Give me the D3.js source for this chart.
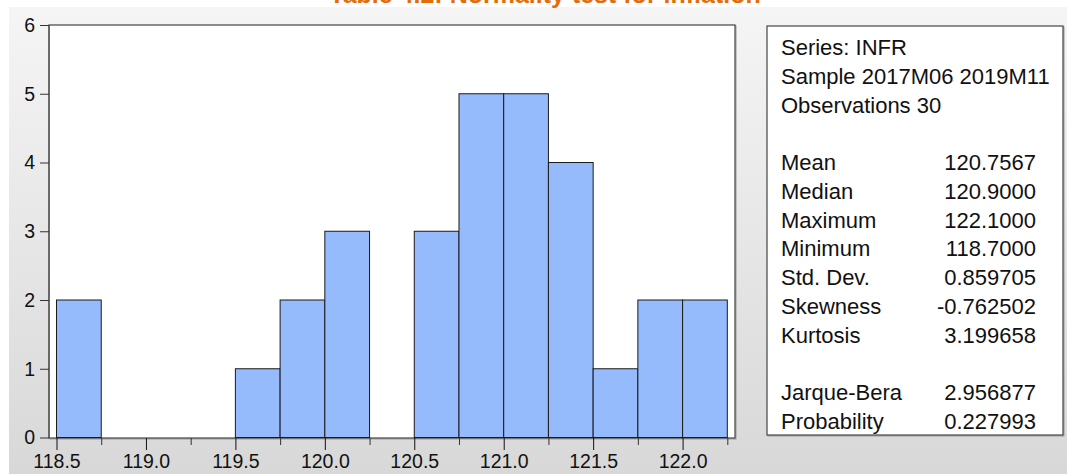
<!DOCTYPE html>
<html>
<head>
<meta charset="utf-8">
<script src="https://cdn.jsdelivr.net/npm/d3@7"></script>
<style>
  html, body { margin: 0; padding: 0; background: #fff; }
  svg { display: block; }
  text { font-family: "Liberation Sans", Arial, sans-serif; }
</style>
</head>
<body>
<script>
// ---- data ----
const title = "Table 4.2: Normality test for inflation";
const binStarts = [118.5, 118.75, 119.0, 119.25, 119.5, 119.75, 120.0, 120.25, 120.5, 120.75, 121.0, 121.25, 121.5, 121.75, 122.0];
const counts    = [2, 0, 0, 0, 1, 2, 3, 0, 3, 5, 5, 4, 1, 2, 2];
const binWidth = 0.25;
const xTickValues = [118.5, 119.0, 119.5, 120.0, 120.5, 121.0, 121.5, 122.0];
const xMinorTicks = [118.75, 119.25, 119.75, 120.25, 120.75, 121.25, 121.75, 122.25];
const yTickValues = [0, 1, 2, 3, 4, 5, 6];
const statHeader = ["Series: INFR", "Sample 2017M06 2019M11", "Observations 30"];
const statLabels = ["Mean", "Median", "Maximum", "Minimum", "Std. Dev.", "Skewness", "Kurtosis"];
const statValues = ["120.7567", "120.9000", "122.1000", "118.7000", "0.859705", "-0.762502", "3.199658"];
const testLabels = ["Jarque-Bera", "Probability"];
const testValues = ["2.956877", "0.227993"];

// ---- layout ----
const W = 1067, H = 474;
const svg = d3.select("body").append("svg").attr("width", W).attr("height", H);

const defs = svg.append("defs");
const grad = defs.append("linearGradient").attr("id", "bg").attr("x1", 0).attr("y1", 0).attr("x2", 0).attr("y2", 1);
grad.append("stop").attr("offset", "0%").attr("stop-color", "#f5f5f5");
grad.append("stop").attr("offset", "100%").attr("stop-color", "#d8d8d8");

svg.append("rect").attr("x", 9).attr("y", 7).attr("width", W - 9).attr("height", H - 7).attr("fill", "url(#bg)");

// title (mostly clipped above the top edge, as in the source image)
svg.append("text").attr("x", 545).attr("y", 3).attr("text-anchor", "middle")
  .attr("font-size", 25).attr("font-weight", "bold").attr("fill", "#E46C0A").text(title);

const plot = { left: 49, right: 735, top: 25, bottom: 438 };
const x = d3.scaleLinear().domain([118.458, 122.293]).range([plot.left, plot.right]);
const y = d3.scaleLinear().domain([0, 6]).range([437.5, plot.top]);

// plot shadow + area
svg.append("rect").attr("x", plot.left + 1).attr("y", plot.top + 1)
  .attr("width", plot.right - plot.left).attr("height", plot.bottom - plot.top)
  .attr("fill", "none").attr("stroke", "#9a9a9a").attr("stroke-width", 1);
svg.append("rect").attr("x", plot.left).attr("y", plot.top)
  .attr("width", plot.right - plot.left).attr("height", plot.bottom - plot.top)
  .attr("fill", "#fff").attr("stroke", "#444").attr("stroke-width", 1.2);

// bars
svg.append("g").selectAll("rect").data(binStarts.map((s, i) => ({ s, c: counts[i] })).filter(d => d.c > 0))
  .join("rect")
  .attr("x", d => x(d.s))
  .attr("width", d => x(d.s + binWidth) - x(d.s))
  .attr("y", d => y(d.c))
  .attr("height", d => y(0) - y(d.c))
  .attr("fill", "#95BBFD")
  .attr("stroke", "#1a1a1a").attr("stroke-width", 1);

// left axis line
svg.append("line").attr("x1", plot.left).attr("x2", plot.left).attr("y1", plot.top).attr("y2", plot.bottom)
  .attr("stroke", "#555").attr("stroke-width", 1.2);

// y axis
const yAxis = d3.axisLeft(y).tickValues(yTickValues).tickSize(9).tickPadding(5).tickFormat(d3.format("d"));
const gy = svg.append("g").attr("transform", `translate(${plot.left},0)`).call(yAxis);
gy.select(".domain").remove();
gy.selectAll(".tick line").attr("stroke", "#333");
gy.selectAll(".tick text").attr("font-size", 19.5).attr("fill", "#111")
  .attr("font-family", "Liberation Sans, Arial, sans-serif");

// x axis (major)
const xAxis = d3.axisBottom(x).tickValues(xTickValues).tickSize(12).tickPadding(4).tickFormat(d3.format(".1f"));
const gx = svg.append("g").attr("transform", `translate(0,${plot.bottom})`).call(xAxis);
gx.select(".domain").remove();
gx.selectAll(".tick line").attr("stroke", "#111");
gx.selectAll(".tick text").attr("font-size", 19.5).attr("fill", "#111")
  .attr("font-family", "Liberation Sans, Arial, sans-serif");

// x axis (minor)
const xMinor = d3.axisBottom(x).tickValues(xMinorTicks).tickSize(7).tickFormat("");
const gxm = svg.append("g").attr("transform", `translate(0,${plot.bottom})`).call(xMinor);
gxm.select(".domain").remove();
gxm.selectAll(".tick line").attr("stroke", "#333");

// stats box
const box = { x: 767, y: 26, w: 296, h: 409 };
svg.append("rect").attr("x", box.x + 1).attr("y", box.y + 1).attr("width", box.w).attr("height", box.h)
  .attr("fill", "none").attr("stroke", "#9a9a9a");
svg.append("rect").attr("x", box.x).attr("y", box.y).attr("width", box.w).attr("height", box.h)
  .attr("fill", "#fff").attr("stroke", "#444").attr("stroke-width", 1.2);

const rowY = i => 55 + i * 28.75;
const tx = 781, vx = 1036, fs = 22;
const g = svg.append("g").attr("font-size", fs).attr("fill", "#111");
statHeader.forEach((t, i) => g.append("text").attr("x", tx).attr("y", rowY(i)).text(t));
statLabels.forEach((t, i) => {
  g.append("text").attr("x", tx).attr("y", rowY(4 + i)).text(t);
  g.append("text").attr("x", vx).attr("y", rowY(4 + i)).attr("text-anchor", "end").text(statValues[i]);
});
testLabels.forEach((t, i) => {
  g.append("text").attr("x", tx).attr("y", rowY(12 + i)).text(t);
  g.append("text").attr("x", vx).attr("y", rowY(12 + i)).attr("text-anchor", "end").text(testValues[i]);
});
</script>
</body>
</html>
